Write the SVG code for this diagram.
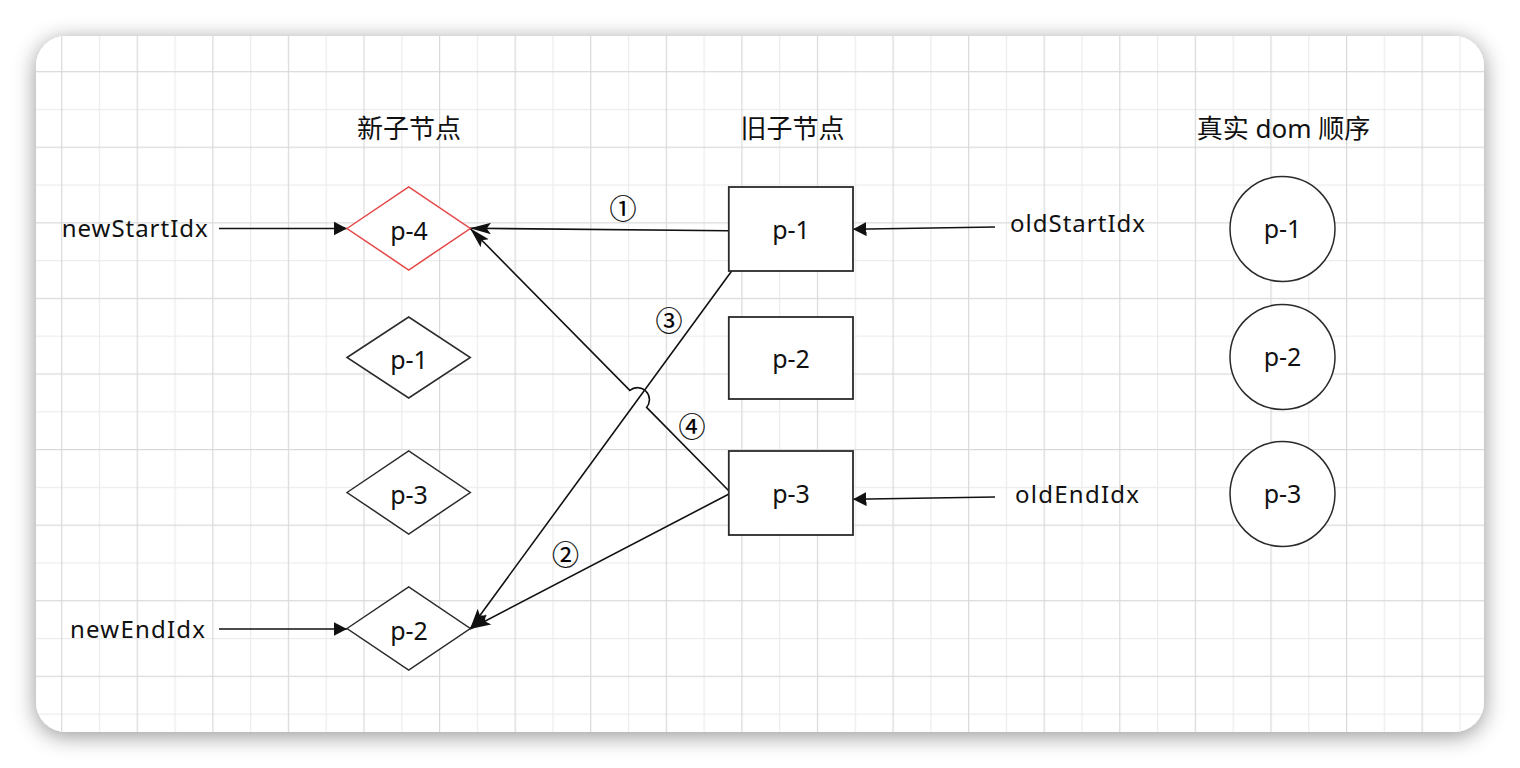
<svg xmlns="http://www.w3.org/2000/svg" width="1520" height="768" viewBox="0 0 1520 768">
<defs>
<filter id="shadow" x="-5%" y="-8%" width="110%" height="120%">
<feDropShadow dx="0" dy="4" stdDeviation="11" flood-color="#000" flood-opacity="0.42"/>
</filter>
<pattern id="grid" patternUnits="userSpaceOnUse" x="61.1" y="71.1" width="75.58" height="75.58">
<rect x="37.79" y="0" width="1.2" height="75.58" fill="#ececec"/>
<rect x="0" y="37.79" width="75.58" height="1.2" fill="#ececec"/>
<rect x="0" y="0" width="1.2" height="75.58" fill="#d9d9d9"/>
<rect x="0" y="0" width="75.58" height="1.2" fill="#d9d9d9"/>
</pattern>
<marker id="block" markerUnits="userSpaceOnUse" markerWidth="14" markerHeight="14" refX="12.5" refY="6.5" orient="auto" viewBox="0 0 13 13">
<path d="M0,0 L12.5,6.5 L0,13 Z" fill="#111"/>
</marker>
<marker id="classic" markerUnits="userSpaceOnUse" markerWidth="22" markerHeight="14" refX="20" refY="6" orient="auto" viewBox="0 0 21 12">
<path d="M0,0.5 L20,6 L0,11.5 L4,6 Z" fill="#111"/>
</marker>
<style>
.t{font-family:"Noto Sans","Noto Sans CJK SC",sans-serif;fill:#111;}
.title{font-family:"Noto Sans","Noto Sans CJK SC",sans-serif;font-size:26px;fill:#111;text-anchor:middle;}
.lbl{font-size:24px;}
.nd{font-size:25px;text-anchor:middle;}
.num{font-family:"Noto Sans CJK SC",sans-serif;font-size:27px;fill:#000;stroke:#000;stroke-width:0.2;text-anchor:middle;}
.dia{fill:#fff;stroke:#2a2a2a;stroke-width:1.5;}
.box{fill:#fff;stroke:#2a2a2a;stroke-width:1.8;}
.cir{fill:#fff;stroke:#2a2a2a;stroke-width:1.5;}
.e{fill:none;stroke:#111;stroke-width:1.6;}
</style>
</defs>
<rect width="1520" height="768" fill="#fff"/>
<rect x="36" y="36" width="1448" height="696" rx="30" ry="30" fill="#fff" filter="url(#shadow)"/>
<rect x="36" y="36" width="1448" height="696" rx="30" ry="30" fill="url(#grid)"/>

<g id="titles">
<text class="title" x="409" y="137.5">新子节点</text>
<text class="title" x="792.5" y="137.5">旧子节点</text>
<text class="title" x="1283.5" y="137.5">真实 dom 顺序</text>
</g>

<g id="connectors">
<path class="e" d="M219,228.5 L347,228.5" marker-end="url(#block)"/>
<path class="e" d="M219,629 L347,629" marker-end="url(#block)"/>
<path class="e" d="M995,227 L853,229.3" marker-end="url(#block)"/>
<path class="e" d="M995,497 L853,499.3" marker-end="url(#block)"/>
<path class="e" d="M728,230.7 L470,228.3" marker-end="url(#classic)"/>
<path class="e" d="M731.7,271 L470,629" marker-end="url(#classic)"/>
<path class="e" d="M729,494 L470,629" marker-end="url(#classic)"/>
<path class="e" d="M729,491 L646.6,407.4 A12,12 0 0 0 629.8,390.4 L470,228.3" marker-end="url(#classic)"/>
<text class="num" x="623" y="219">①</text>
<text class="num" x="669" y="331">③</text>
<text class="num" x="692" y="437">④</text>
<text class="num" x="565.5" y="565">②</text>
</g>

<g id="labels">
<text class="t lbl" x="61.7" y="237" textLength="146">newStartIdx</text>
<text class="t lbl" x="70" y="637.7" textLength="135">newEndIdx</text>
<text class="t lbl" x="1010" y="231.7" textLength="135">oldStartIdx</text>
<text class="t lbl" x="1015" y="503.3" textLength="124">oldEndIdx</text>
</g>

<g id="new-p4">
<polygon points="347,228.5 408.7,187 470.3,228.5 408.7,270" fill="#fff" stroke="#e54545" stroke-width="1.5"/>
<text class="t nd" x="409" y="239.5">p-4</text>
</g>
<g id="new-p1">
<polygon class="dia" points="347,357.5 408.7,317 470.3,357.5 408.7,398"/>
<text class="t nd" x="409" y="368.5">p-1</text>
</g>
<g id="new-p3">
<polygon class="dia" points="347,492.5 408.7,451 470.3,492.5 408.7,534"/>
<text class="t nd" x="409" y="503.5">p-3</text>
</g>
<g id="new-p2">
<polygon class="dia" points="347,628.5 408.7,587 470.3,628.5 408.7,670"/>
<text class="t nd" x="409" y="639.5">p-2</text>
</g>

<g id="old-p1">
<rect class="box" x="728.8" y="187" width="124.2" height="84"/>
<text class="t nd" x="791" y="238.5">p-1</text>
</g>
<g id="old-p2">
<rect class="box" x="728.8" y="317" width="124.2" height="82"/>
<text class="t nd" x="791" y="367.5">p-2</text>
</g>
<g id="old-p3">
<rect class="box" x="728.8" y="451" width="124.2" height="84"/>
<text class="t nd" x="791" y="502.5">p-3</text>
</g>

<g id="dom-p1">
<circle class="cir" cx="1282.5" cy="229" r="52.5"/>
<text class="t nd" x="1282.5" y="238">p-1</text>
</g>
<g id="dom-p2">
<circle class="cir" cx="1282.5" cy="357" r="52.5"/>
<text class="t nd" x="1282.5" y="366">p-2</text>
</g>
<g id="dom-p3">
<circle class="cir" cx="1282.5" cy="494" r="52.5"/>
<text class="t nd" x="1282.5" y="503">p-3</text>
</g>
</svg>
